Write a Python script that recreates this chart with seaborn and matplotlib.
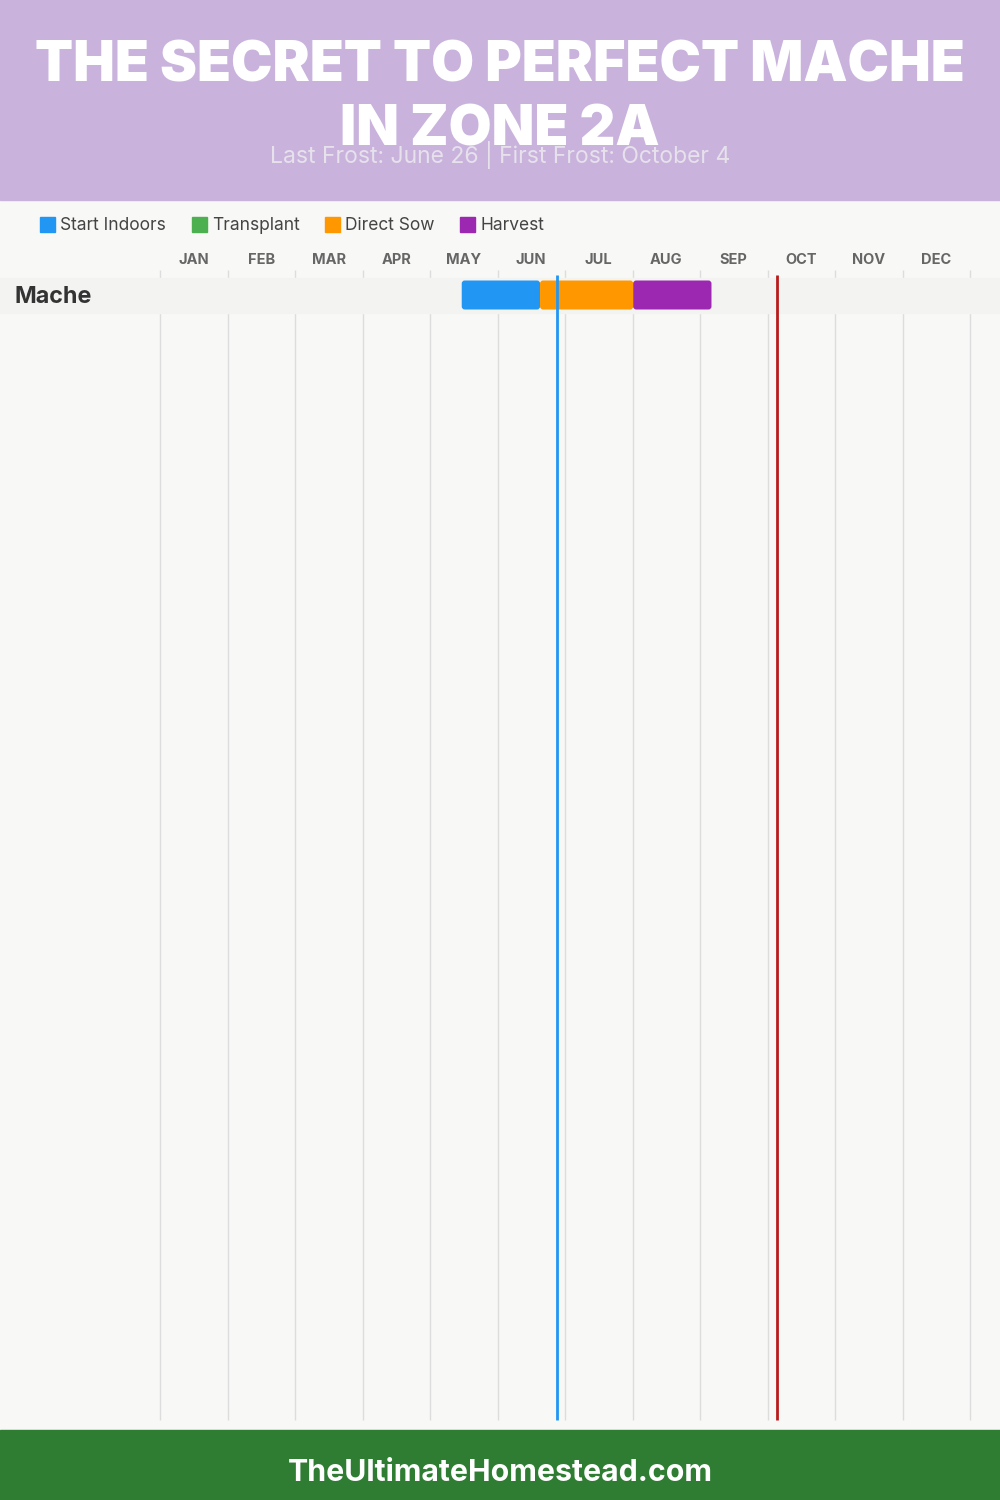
import matplotlib.pyplot as plt
import seaborn as sns
import numpy as np
from matplotlib.patches import FancyBboxPatch, Rectangle

# Data
months = ['JAN', 'FEB', 'MAR', 'APR', 'MAY', 'JUN', 'JUL', 'AUG', 'SEP', 'OCT', 'NOV', 'DEC']
crops = ['Mache']
stages = ['Start Indoors', 'Transplant', 'Direct Sow', 'Harvest']
stage_colors = ['#2196F3', '#4CAF50', '#FF9800', '#9C27B0']
# (crop, stage, start month, end month) in fractional months from Jan 1
tasks_crop = ['Mache', 'Mache', 'Mache']
tasks_stage = ['Start Indoors', 'Direct Sow', 'Harvest']
tasks_start = [4.47, 5.63, 7.01]
tasks_end = [5.63, 7.01, 8.17]
last_frost = 5.876   # June 26
first_frost = 9.136  # October 4

sns.set_theme(style='white')
plt.rcParams['font.family'] = ['Inter', 'DejaVu Sans']

W, H = 1000, 1500
fig = plt.figure(figsize=(10, 15), dpi=100)
fig.patch.set_facecolor('#F8F8F6')

# decoration layer in pixel coordinates
deco = fig.add_axes([0, 0, 1, 1])
deco.set_xlim(0, W)
deco.set_ylim(H, 0)
deco.axis('off')
deco.add_patch(Rectangle((0, 0), W, 200, color='#C9B3DD', zorder=0))
deco.add_patch(Rectangle((0, 1430), W, 70, color='#2E7D32', zorder=0))

deco.text(500, 82, 'THE SECRET TO PERFECT MACHE', ha='center', va='baseline',
          color='white', fontsize=40, fontweight='black')
deco.text(500, 145, 'IN ZONE 2A', ha='center', va='baseline',
          color='white', fontsize=40, fontweight='black')
deco.text(500, 163, 'Last Frost: June 26 | First Frost: October 4', ha='center',
          va='baseline', color='#E6E1EB', fontsize=16.5)
deco.text(500, 1473, 'TheUltimateHomestead.com', ha='center', va='center',
          color='white', fontsize=21.8, fontweight='bold')

# legend
leg_x = [40, 192, 325, 460]
for x, name, c in zip(leg_x, stages, stage_colors):
    deco.add_patch(Rectangle((x, 217), 15, 15, color=c))
    deco.text(x + 20, 226, name, ha='left', va='center', color='#444444', fontsize=12.5)

# chart layer: x in months, y in pixels
ax = fig.add_axes([0, 0, 1, 1])
ax.patch.set_alpha(0)
ax.set_xlim(-160 / 67.5, (W - 160) / 67.5)
ax.set_ylim(H, 0)
ax.axis('off')

edges = np.arange(len(months) + 1)
ax.vlines(edges, 270, 1420, color='#DDDDDD', lw=1, zorder=1)
for i, m in enumerate(months):
    ax.text(i + 0.5, 260, m, ha='center', va='center', color='#666666',
            fontsize=10.5, fontweight='bold')

row_h = 35
bar_h = 29
for r, crop in enumerate(crops):
    yc = 295 + r * row_h
    ax.axhspan(yc - row_h / 2, yc + row_h / 2, color='#F3F3F1', zorder=2)
    ax.text(15, yc + 2, crop, ha='left', va='center', color='#333333',
            fontsize=16.8, fontweight='bold', transform=deco.transData, zorder=5)
    for c_, s, a, b in zip(tasks_crop, tasks_stage, tasks_start, tasks_end):
        if c_ != crop:
            continue
        col = stage_colors[stages.index(s)]
        ax.add_patch(FancyBboxPatch((a, yc - bar_h / 2), b - a, bar_h,
                                    boxstyle='round,pad=0,rounding_size=0.045',
                                    mutation_aspect=67.5, facecolor=col,
                                    edgecolor='none', zorder=3))

ax.vlines([last_frost], 275, 1420, color='#2196F3', lw=2, zorder=4)
ax.vlines([first_frost], 275, 1420, color='#B71C1C', lw=2, zorder=4)

fig.savefig('out.png', dpi=100, facecolor=fig.get_facecolor())
